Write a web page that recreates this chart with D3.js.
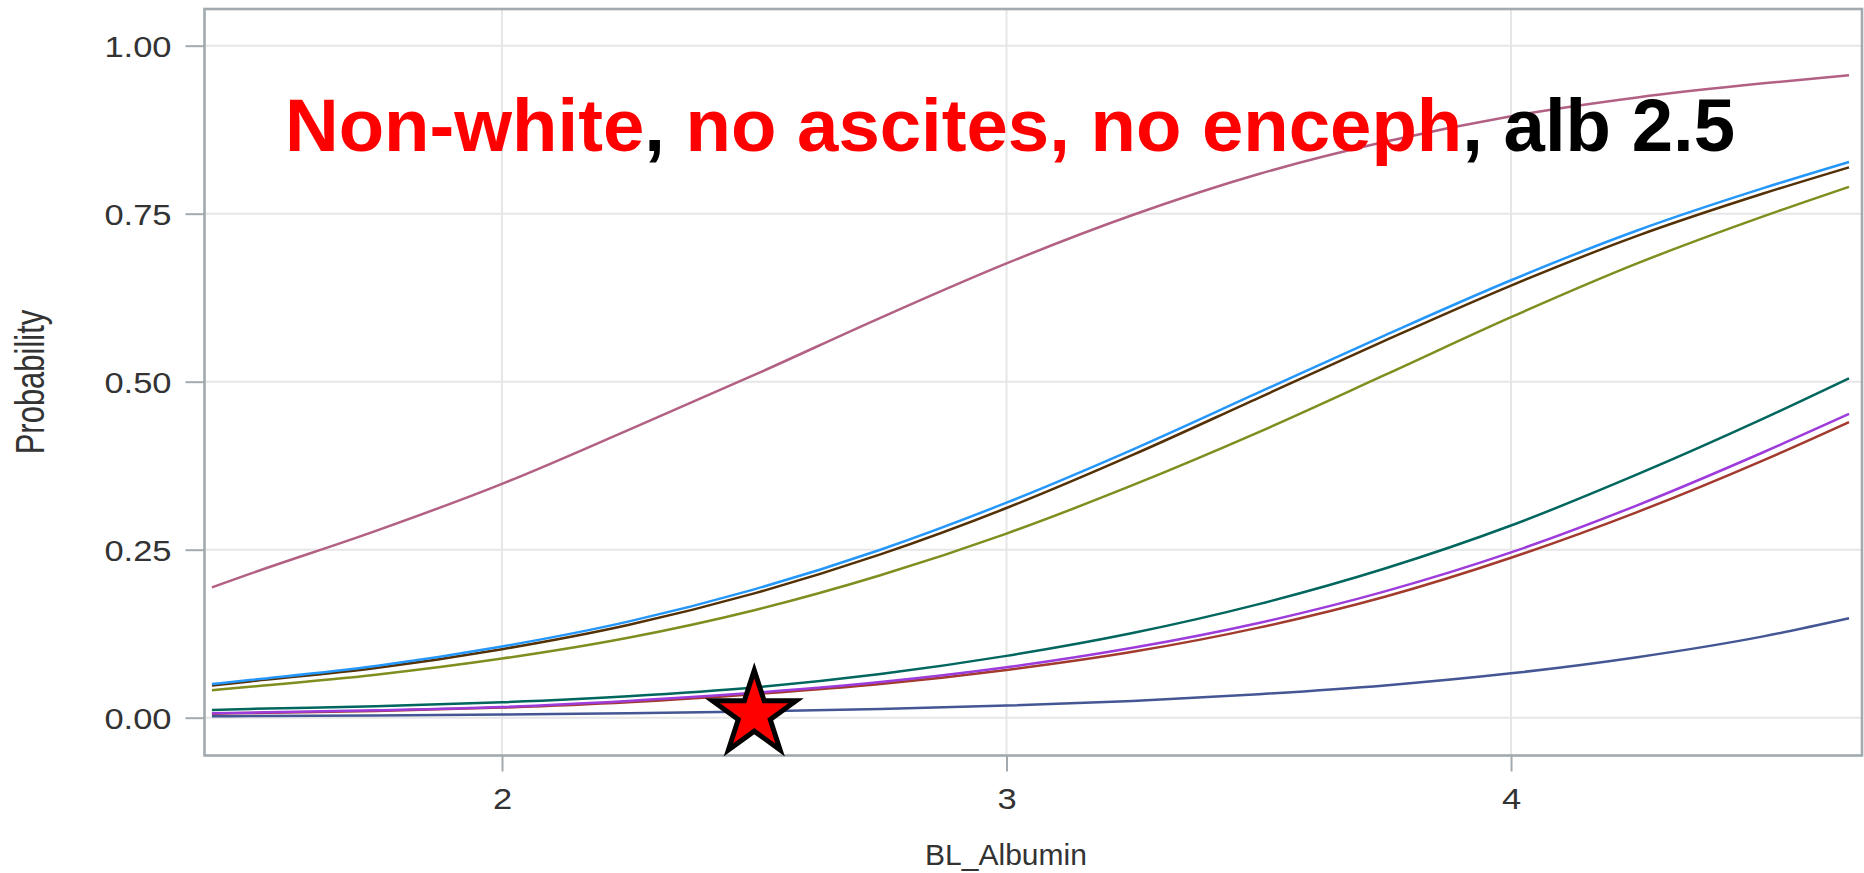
<!DOCTYPE html>
<html>
<head>
<meta charset="utf-8">
<script src="https://cdn.jsdelivr.net/npm/d3@7"></script>
<style>
  html, body { margin: 0; padding: 0; background: #fff; overflow: hidden; }
  svg { display: block; }
</style>
</head>
<body>
<svg id="chart" width="1864" height="873"></svg>
<script>
// Baseline albumin values at which predicted probabilities are plotted
const albumin = [1.425, 1.5, 1.75, 2.0, 2.25, 2.5, 2.75, 3.0, 3.25, 3.5, 3.75, 4.0, 4.25, 4.5, 4.67];

// Predicted probability per covariate profile
const probSlate  = [0.0022, 0.0024, 0.0033, 0.0047, 0.0066, 0.0092, 0.013, 0.018, 0.025, 0.035, 0.048, 0.066, 0.090, 0.121, 0.148];
const probRed    = [0.006, 0.007, 0.010, 0.015, 0.023, 0.035, 0.050, 0.071, 0.098, 0.134, 0.180, 0.238, 0.306, 0.383, 0.440];
const probTeal   = [0.0115, 0.013, 0.017, 0.023, 0.032, 0.045, 0.065, 0.092, 0.126, 0.169, 0.222, 0.286, 0.362, 0.445, 0.505];
const probBrown  = [0.048, 0.054, 0.074, 0.102, 0.138, 0.185, 0.243, 0.312, 0.391, 0.476, 0.561, 0.643, 0.717, 0.780, 0.819];
const probPurple = [0.0065, 0.0075, 0.011, 0.016, 0.025, 0.037, 0.053, 0.075, 0.104, 0.141, 0.188, 0.246, 0.316, 0.395, 0.452];
const probOlive  = [0.041, 0.046, 0.064, 0.088, 0.119, 0.160, 0.212, 0.274, 0.346, 0.425, 0.510, 0.596, 0.676, 0.746, 0.790];
const probBlue   = [0.050, 0.056, 0.077, 0.106, 0.143, 0.191, 0.250, 0.320, 0.399, 0.484, 0.569, 0.651, 0.725, 0.788, 0.827];
const probMauve  = [0.194, 0.214, 0.278, 0.348, 0.428, 0.510, 0.595, 0.676, 0.748, 0.809, 0.857, 0.895, 0.923, 0.944, 0.956];

const seriesValues = [probSlate, probRed, probTeal, probBrown, probPurple, probOlive, probBlue, probMauve];
const seriesColors = ["#445694", "#A23A2E", "#01665E", "#543005", "#9D3CDB", "#7F8E1F", "#2597FA", "#B26084"];

const xTicks = [2, 3, 4];
const yTicks = [0, 0.25, 0.5, 0.75, 1];
const yTickLabels = ["0.00", "0.25", "0.50", "0.75", "1.00"];

// Highlighted profile marker
const markerAlbumin = [2.5];
const markerProb = [0.005];

const xTitle = "BL_Albumin";
const yTitle = "Probability";

const svg = d3.select("#chart");
const W = 1864, H = 873;
const plot = { left: 204.5, right: 1862, top: 9, bottom: 755.5 };

const x = d3.scaleLinear().domain([1.4103, 4.6957]).range([plot.left, plot.right]);
const y = d3.scaleLinear().domain([-0.05625, 1.0546]).range([plot.bottom, plot.top]);

svg.append("rect").attr("width", W).attr("height", H).attr("fill", "#fff");

// Grid lines
const grid = svg.append("g");
grid.selectAll("line.gy").data(yTicks).join("line")
  .attr("x1", plot.left).attr("x2", plot.right)
  .attr("y1", d => y(d)).attr("y2", d => y(d))
  .attr("stroke", "#e6e6e6").attr("stroke-width", 2);
grid.selectAll("line.gx").data(xTicks).join("line")
  .attr("x1", d => x(d)).attr("x2", d => x(d))
  .attr("y1", plot.top).attr("y2", plot.bottom)
  .attr("stroke", "#e6e6e6").attr("stroke-width", 2);

// Curves
svg.append("defs").append("clipPath").attr("id", "clip")
  .append("rect").attr("x", plot.left).attr("y", plot.top)
  .attr("width", plot.right - plot.left).attr("height", plot.bottom - plot.top);

const line = d3.line()
  .x((d, i) => x(albumin[i]))
  .y(d => y(d))
  .curve(d3.curveMonotoneX);

svg.append("g").attr("clip-path", "url(#clip)")
  .selectAll("path").data(seriesValues).join("path")
  .attr("d", d => line(d))
  .attr("fill", "none")
  .attr("stroke", (d, i) => seriesColors[i])
  .attr("stroke-width", 2.5);

// Axes
const tickColor = "#a2aaaf";
const yAxis = svg.append("g")
  .attr("transform", `translate(${plot.left},0)`)
  .call(d3.axisLeft(y).tickValues(yTicks).tickSize(19).tickPadding(0).tickFormat((d, i) => yTickLabels[i]));
yAxis.select(".domain").remove();
yAxis.selectAll(".tick line").attr("stroke", tickColor).attr("stroke-width", 2);
yAxis.selectAll(".tick text").text(null);
yAxis.selectAll(".tick").append("text")
  .attr("transform", "translate(-33,0) scale(1.15,1)")
  .attr("text-anchor", "end")
  .attr("dy", "0.36em")
  .attr("fill", "#333")
  .style("font", "30px 'Liberation Sans', Arial, sans-serif")
  .text((d, i) => yTickLabels[i]);

const xAxis = svg.append("g")
  .attr("transform", `translate(0,${plot.bottom})`)
  .call(d3.axisBottom(x).tickValues(xTicks).tickSize(16).tickFormat(d3.format("d")));
xAxis.select(".domain").remove();
xAxis.selectAll(".tick line").attr("stroke", tickColor).attr("stroke-width", 2);
xAxis.selectAll(".tick text").text(null);
xAxis.selectAll(".tick").append("text")
  .attr("transform", "translate(0,53) scale(1.15,1)")
  .attr("text-anchor", "middle")
  .attr("fill", "#333")
  .style("font", "30px 'Liberation Sans', Arial, sans-serif")
  .text(d => d3.format("d")(d));

// Frame
svg.append("rect")
  .attr("x", plot.left).attr("y", plot.top)
  .attr("width", plot.right - plot.left).attr("height", plot.bottom - plot.top)
  .attr("fill", "none").attr("stroke", tickColor).attr("stroke-width", 2.6);

// Axis titles
svg.append("text")
  .attr("x", 1006).attr("y", 865)
  .attr("text-anchor", "middle")
  .attr("fill", "#333")
  .style("font", "30px 'Liberation Sans', Arial, sans-serif")
  .text(xTitle);

svg.append("text")
  .attr("transform", "translate(44,382) scale(1.3,1) rotate(-90)")
  .attr("text-anchor", "middle")
  .attr("fill", "#333")
  .style("font", "31px 'Liberation Sans', Arial, sans-serif")
  .text(yTitle);

// Annotation
const note = svg.append("text")
  .attr("x", 285).attr("y", 151)
  .attr("textLength", 1450).attr("lengthAdjust", "spacingAndGlyphs")
  .style("font", "bold 75px 'Liberation Sans', Arial, sans-serif");
const noteParts = [
  ["Non-white", "#ff0000"], [", ", "#000"], ["no ascites, no enceph", "#ff0000"], [", alb 2.5", "#000"]
];
note.selectAll("tspan").data(noteParts).join("tspan")
  .attr("fill", d => d[1]).text(d => d[0]);

// Star marker
svg.append("g").selectAll("path").data(markerAlbumin).join("path")
  .attr("transform", (d, i) => `translate(${x(d)},${y(markerProb[i])})`)
  .attr("d", d3.symbol(d3.symbolStar, 2173))
  .attr("fill", "#ff0000")
  .attr("stroke", "#000")
  .attr("stroke-width", 5)
  .attr("stroke-linejoin", "miter")
  .attr("stroke-miterlimit", 10);
</script>
</body>
</html>
